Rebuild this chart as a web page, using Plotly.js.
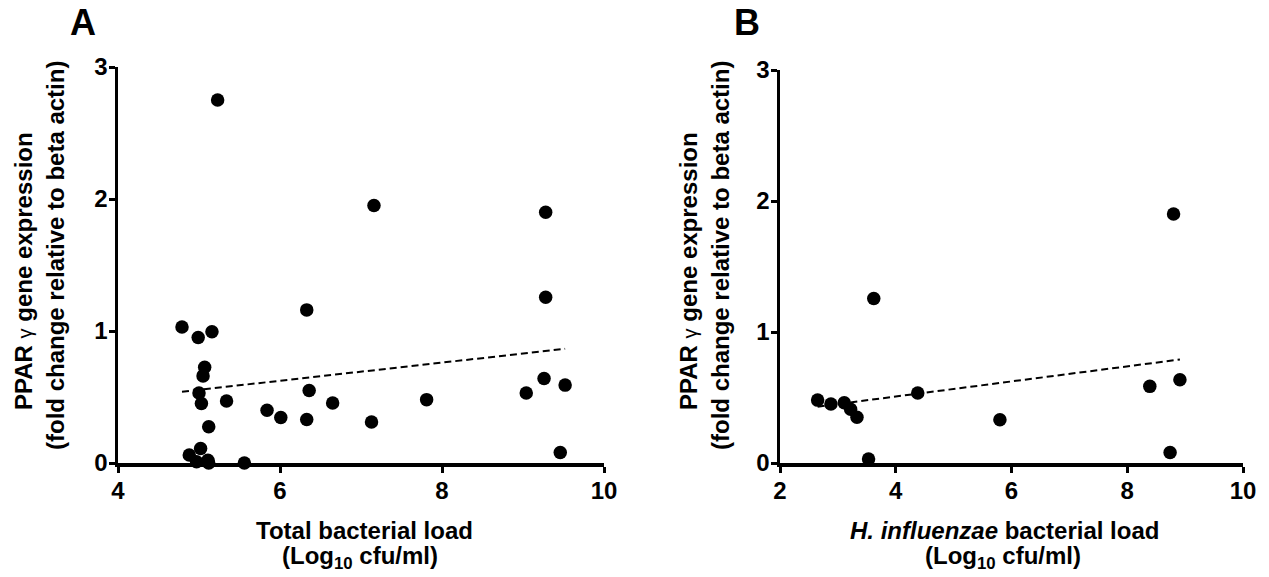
<!DOCTYPE html>
<html>
<head>
<meta charset="utf-8">
<script src="https://cdn.plot.ly/plotly-3.0.1.min.js"></script>
<style>html,body{margin:0;padding:0;background:#fff;}#chart{width:1269px;height:577px;}</style>
</head>
<body>
<div id="chart"></div>
<script>
// Panel A: total bacterial load vs PPAR gamma expression
const totalLoad = [4.79, 5.23, 4.99, 5.16, 5.07, 5.05, 5.00, 5.03, 5.34, 5.12, 5.02, 4.88, 4.97, 5.11, 5.12, 5.56, 5.84, 6.01, 6.33, 6.36, 6.33, 6.65, 7.16, 7.13, 7.81, 9.04, 9.26, 9.28, 9.28, 9.52, 9.46];
const pparA     = [1.03, 2.75, 0.95, 0.995, 0.725, 0.66, 0.53, 0.45, 0.47, 0.275, 0.11, 0.06, 0.01, 0.02, 0.00, 0.00, 0.40, 0.345, 1.16, 0.55, 0.33, 0.455, 1.95, 0.31, 0.48, 0.53, 0.64, 1.255, 1.90, 0.59, 0.08];
const trendAx = [4.79, 9.52];
const trendAy = [0.54, 0.865];

// Panel B: H. influenzae bacterial load vs PPAR gamma expression
const hiLoad = [2.65, 2.88, 3.11, 3.22, 3.33, 3.53, 3.62, 4.38, 5.80, 8.39, 8.74, 8.80, 8.91];
const pparB  = [0.48, 0.45, 0.46, 0.41, 0.35, 0.03, 1.255, 0.535, 0.33, 0.585, 0.08, 1.90, 0.635];
const trendBx = [2.65, 8.91];
const trendBy = [0.43, 0.79];

const yTicks = [0, 1, 2, 3];
const yTickText = ['0', '1', '2', '3'];
const xTicksA = [4, 6, 8, 10];
const xTickTextA = ['4', '6', '8', '10'];
const xTicksB = [2, 4, 6, 8, 10];
const xTickTextB = ['2', '4', '6', '8', '10'];

const W = 1269, H = 577;
const px = v => v / W;
const py = v => (H - v) / H;
const bold = arr => arr.map(s => '<b>' + s + '</b>');

const FONT = 'Liberation Sans, Arial, sans-serif';
const mk = {size: 13.5, color: '#000'};
const dashLine = {color: '#000', width: 2, dash: '7px,4px'};

const traces = [
  {x: totalLoad, y: pparA, type: 'scatter', mode: 'markers', marker: mk, cliponaxis: false, xaxis: 'x', yaxis: 'y'},
  {x: trendAx, y: trendAy, type: 'scatter', mode: 'lines', line: dashLine, xaxis: 'x', yaxis: 'y'},
  {x: hiLoad, y: pparB, type: 'scatter', mode: 'markers', marker: mk, cliponaxis: false, xaxis: 'x2', yaxis: 'y2'},
  {x: trendBx, y: trendBy, type: 'scatter', mode: 'lines', line: dashLine, xaxis: 'x2', yaxis: 'y2'}
];

function axis(extra) {
  return Object.assign({
    showgrid: false, zeroline: false, showline: true, linecolor: '#000', linewidth: 3.5,
    ticks: 'outside', ticklen: 6, tickwidth: 3, tickcolor: '#000',
    tickfont: {family: FONT, size: 24, color: '#000', weight: 'bold'},
    tickmode: 'array',
    fixedrange: true
  }, extra);
}

const titleFont = {family: FONT, size: 24, color: '#000'};
function ann(text, x, y, extra) {
  return Object.assign({text: text, x: px(x), y: py(y), xref: 'paper', yref: 'paper', showarrow: false,
    xanchor: 'center', yanchor: 'middle', font: titleFont}, extra || {});
}

const layout = {
  width: W, height: H,
  margin: {l: 0, r: 0, t: 0, b: 0},
  paper_bgcolor: '#fff', plot_bgcolor: '#fff',
  showlegend: false,
  font: {family: FONT, size: 24, color: '#000', weight: 'bold'},
  xaxis: axis({domain: [px(118), px(604)], range: [4, 10], tickvals: xTicksA, ticktext: bold(xTickTextA), anchor: 'y', ticklabelstandoff: -2}),
  yaxis: axis({domain: [py(463), py(67)], range: [0, 3], tickvals: yTicks, ticktext: bold(yTickText), anchor: 'x', ticklabelstandoff: -4}),
  xaxis2: axis({domain: [px(780), px(1243)], range: [2, 10], tickvals: xTicksB, ticktext: bold(xTickTextB), anchor: 'y2', ticklabelstandoff: -2}),
  yaxis2: axis({domain: [py(463), py(70)], range: [0, 3], tickvals: yTicks, ticktext: bold(yTickText), anchor: 'x2', ticklabelstandoff: -4}),
  annotations: [
    ann('<b>A</b>', 83, 22, {font: {family: FONT, size: 36, color: '#000'}}),
    ann('<b>B</b>', 747, 22, {font: {family: FONT, size: 36, color: '#000'}}),
    ann('<b>PPAR </b><span style="font-size:20px;font-weight:normal">γ</span><b> gene expression</b>', 23, 271, {textangle: -90}),
    ann('<b>(fold change relative to beta actin)</b>', 55, 256, {textangle: -90}),
    ann('<b>PPAR </b><span style="font-size:20px;font-weight:normal">γ</span><b> gene expression</b>', 688, 271, {textangle: -90}),
    ann('<b>(fold change relative to beta actin)</b>', 720, 256, {textangle: -90}),
    ann('<b>Total bacterial load</b>', 364, 530),
    ann('<b>(Log<sub>10</sub> cfu/ml)</b>', 360, 557),
    ann('<b><i>H. influenzae</i> bacterial load</b>', 1004, 530),
    ann('<b>(Log<sub>10</sub> cfu/ml)</b>', 1003, 557)
  ]
};

Plotly.newPlot('chart', traces, layout, {displayModeBar: false, staticPlot: true});
</script>
</body>
</html>
